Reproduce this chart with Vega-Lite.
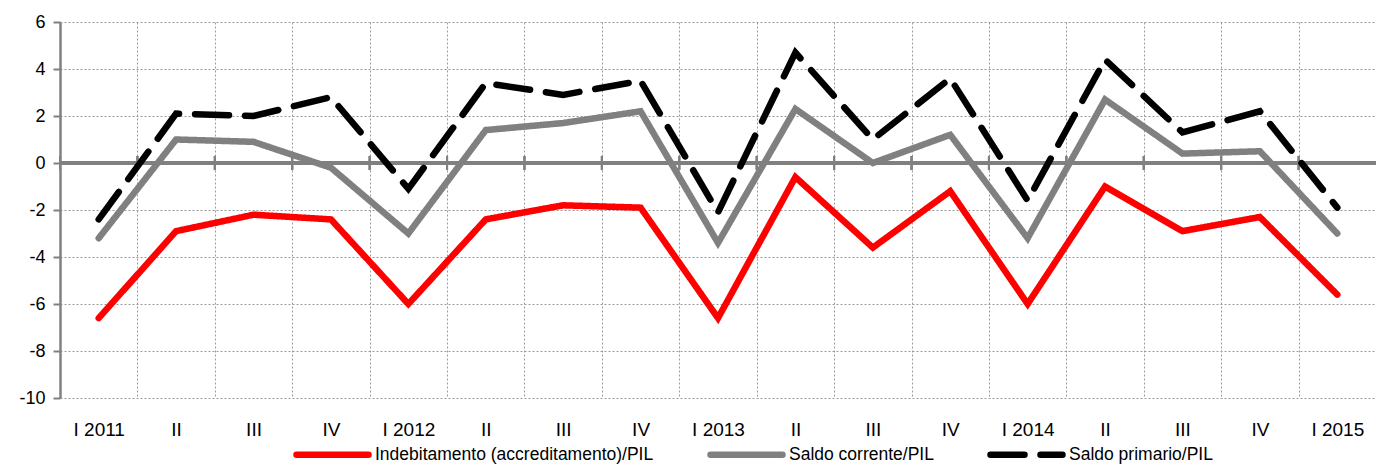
{
  "$schema": "https://vega.github.io/schema/vega-lite/v6.json",
  "width": 1316,
  "height": 376,
  "autosize": "none",
  "padding": {"left": 60, "top": 22, "right": 0, "bottom": 68},
  "config": {
    "font": "Liberation Sans Narrow, Arial Narrow, Liberation Sans, sans-serif",
    "view": {"stroke": null}
  },
  "data": {
    "values": [
      {"q": "I 2011", "serie": "Indebitamento (accreditamento)/PIL", "v": -6.6},
      {"q": "II 2011", "serie": "Indebitamento (accreditamento)/PIL", "v": -2.9},
      {"q": "III 2011", "serie": "Indebitamento (accreditamento)/PIL", "v": -2.2},
      {"q": "IV 2011", "serie": "Indebitamento (accreditamento)/PIL", "v": -2.4},
      {"q": "I 2012", "serie": "Indebitamento (accreditamento)/PIL", "v": -6.0},
      {"q": "II 2012", "serie": "Indebitamento (accreditamento)/PIL", "v": -2.4},
      {"q": "III 2012", "serie": "Indebitamento (accreditamento)/PIL", "v": -1.8},
      {"q": "IV 2012", "serie": "Indebitamento (accreditamento)/PIL", "v": -1.9},
      {"q": "I 2013", "serie": "Indebitamento (accreditamento)/PIL", "v": -6.6},
      {"q": "II 2013", "serie": "Indebitamento (accreditamento)/PIL", "v": -0.6},
      {"q": "III 2013", "serie": "Indebitamento (accreditamento)/PIL", "v": -3.6},
      {"q": "IV 2013", "serie": "Indebitamento (accreditamento)/PIL", "v": -1.2},
      {"q": "I 2014", "serie": "Indebitamento (accreditamento)/PIL", "v": -6.0},
      {"q": "II 2014", "serie": "Indebitamento (accreditamento)/PIL", "v": -1.0},
      {"q": "III 2014", "serie": "Indebitamento (accreditamento)/PIL", "v": -2.9},
      {"q": "IV 2014", "serie": "Indebitamento (accreditamento)/PIL", "v": -2.3},
      {"q": "I 2015", "serie": "Indebitamento (accreditamento)/PIL", "v": -5.6},
      {"q": "I 2011", "serie": "Saldo corrente/PIL", "v": -3.2},
      {"q": "II 2011", "serie": "Saldo corrente/PIL", "v": 1.0},
      {"q": "III 2011", "serie": "Saldo corrente/PIL", "v": 0.9},
      {"q": "IV 2011", "serie": "Saldo corrente/PIL", "v": -0.2},
      {"q": "I 2012", "serie": "Saldo corrente/PIL", "v": -3.0},
      {"q": "II 2012", "serie": "Saldo corrente/PIL", "v": 1.4},
      {"q": "III 2012", "serie": "Saldo corrente/PIL", "v": 1.7},
      {"q": "IV 2012", "serie": "Saldo corrente/PIL", "v": 2.2},
      {"q": "I 2013", "serie": "Saldo corrente/PIL", "v": -3.4},
      {"q": "II 2013", "serie": "Saldo corrente/PIL", "v": 2.3},
      {"q": "III 2013", "serie": "Saldo corrente/PIL", "v": 0.0},
      {"q": "IV 2013", "serie": "Saldo corrente/PIL", "v": 1.2},
      {"q": "I 2014", "serie": "Saldo corrente/PIL", "v": -3.2},
      {"q": "II 2014", "serie": "Saldo corrente/PIL", "v": 2.7},
      {"q": "III 2014", "serie": "Saldo corrente/PIL", "v": 0.4},
      {"q": "IV 2014", "serie": "Saldo corrente/PIL", "v": 0.5},
      {"q": "I 2015", "serie": "Saldo corrente/PIL", "v": -3.0},
      {"q": "I 2011", "serie": "Saldo primario/PIL", "v": -2.4},
      {"q": "II 2011", "serie": "Saldo primario/PIL", "v": 2.1},
      {"q": "III 2011", "serie": "Saldo primario/PIL", "v": 2.0},
      {"q": "IV 2011", "serie": "Saldo primario/PIL", "v": 2.8},
      {"q": "I 2012", "serie": "Saldo primario/PIL", "v": -1.1},
      {"q": "II 2012", "serie": "Saldo primario/PIL", "v": 3.4},
      {"q": "III 2012", "serie": "Saldo primario/PIL", "v": 2.9},
      {"q": "IV 2012", "serie": "Saldo primario/PIL", "v": 3.5},
      {"q": "I 2013", "serie": "Saldo primario/PIL", "v": -2.1},
      {"q": "II 2013", "serie": "Saldo primario/PIL", "v": 4.7},
      {"q": "III 2013", "serie": "Saldo primario/PIL", "v": 1.0},
      {"q": "IV 2013", "serie": "Saldo primario/PIL", "v": 3.6},
      {"q": "I 2014", "serie": "Saldo primario/PIL", "v": -1.6},
      {"q": "II 2014", "serie": "Saldo primario/PIL", "v": 4.4},
      {"q": "III 2014", "serie": "Saldo primario/PIL", "v": 1.3},
      {"q": "IV 2014", "serie": "Saldo primario/PIL", "v": 2.2},
      {"q": "I 2015", "serie": "Saldo primario/PIL", "v": -1.9}
    ]
  },
  "encoding": {
    "x": {
      "field": "q",
      "type": "nominal",
      "sort": null,
      "scale": {"paddingInner": 0, "paddingOuter": 0},
      "axis": {
        "title": null,
        "labelAngle": 0,
        "labelFontSize": 19,
        "labelColor": "#000000",
        "labelPadding": 22,
        "labelExpr": "split(datum.label, ' ')[0] == 'I' ? datum.label : split(datum.label, ' ')[0]",
        "domain": false,
        "ticks": false,
        "grid": true,
        "tickBand": "extent",
        "gridColor": "#9a9a9a",
        "gridDash": [2, 2],
        "gridWidth": 1
      }
    }
  },
  "layer": [
    {
      "mark": {"type": "rule", "color": "#808080", "strokeWidth": 2.5},
      "encoding": {
        "x": null,
        "y": {
          "datum": 0,
          "type": "quantitative",
          "scale": {"domain": [-10, 6], "nice": false},
          "axis": {
            "title": null,
            "grid": true,
            "values": [-10, -8, -6, -4, -2, 0, 2, 4, 6],
            "labelExpr": "replace(datum.label, '\u2212', '-')",
            "labelFontSize": 18,
            "labelColor": "#000000",
            "labelPadding": 8,
            "domainColor": "#808080",
            "domainWidth": 2.5,
            "tickColor": "#808080",
            "tickWidth": 2,
            "tickSize": 7,
            "gridColor": "#9a9a9a",
            "gridDash": [2, 2],
            "gridWidth": 1
          }
        }
      }
    },
    {
      "mark": {"type": "rule", "color": "#808080", "strokeWidth": 2},
      "encoding": {
        "x": {"field": "q", "type": "nominal", "sort": null, "bandPosition": 0},
        "y": {"datum": -0.3, "type": "quantitative"},
        "y2": {"datum": 0.3}
      }
    },
    {
      "mark": {"type": "line", "strokeCap": "round", "strokeJoin": "miter"},
      "encoding": {
        "y": {"field": "v", "type": "quantitative"},
        "color": {
          "field": "serie",
          "type": "nominal",
          "scale": {
            "domain": ["Indebitamento (accreditamento)/PIL", "Saldo corrente/PIL", "Saldo primario/PIL"],
            "range": ["#ff0000", "#808080", "#000000"]
          },
          "legend": {
            "title": null,
            "orient": "none",
            "legendX": 233,
            "legendY": 393,
            "direction": "horizontal",
            "symbolType": "stroke",
            "symbolSize": 5184,
            "labelFontSize": 17.5,
            "labelColor": "#000000",
            "labelOffset": 3,
            "columnPadding": 43,
            "padding": 0,
            "labelLimit": 500,
            "encode": {"symbols": {"update": {"strokeCap": {"value": "round"}}}}
          }
        },
        "strokeDash": {
          "field": "serie",
          "type": "nominal",
          "scale": {
            "domain": ["Indebitamento (accreditamento)/PIL", "Saldo corrente/PIL", "Saldo primario/PIL"],
            "range": [[1, 0], [1, 0], [34, 16]]
          },
          "legend": null
        },
        "strokeWidth": {
          "field": "serie",
          "type": "nominal",
          "scale": {
            "domain": ["Indebitamento (accreditamento)/PIL", "Saldo corrente/PIL", "Saldo primario/PIL"],
            "range": [6.5, 6.5, 4]
          },
          "legend": null
        }
      }
    }
  ]
}
